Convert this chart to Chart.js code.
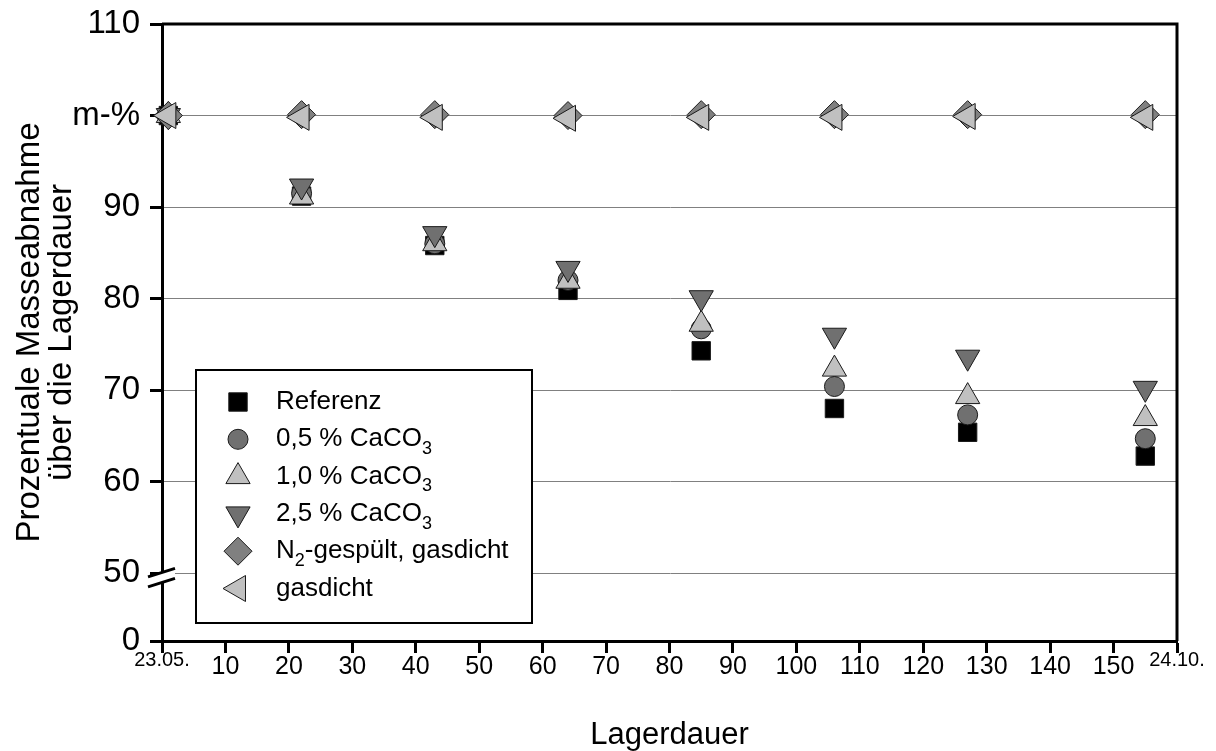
<!DOCTYPE html>
<html>
<head>
<meta charset="utf-8">
<script src="https://cdn.jsdelivr.net/npm/chart.js@4/dist/chart.umd.min.js"></script>
<style>
  html, body { margin: 0; background: #fff; }
  #wrap { width: 1216px; height: 751px; }
</style>
</head>
<body>
<div id="wrap"><canvas id="chart"></canvas></div>
<script>
// Lagerdauer in Tagen (erster Messpunkt kurz nach Einlagerung)
const days = [1, 22, 43, 64, 85, 106, 127, 155];

// Restmasse in m-% je Variante
const referenz   = [100, 91.2, 85.8, 80.9, 74.3, 68.0, 65.4, 62.8];
const caco05     = [100, 91.5, 86.0, 82.0, 76.7, 70.4, 67.3, 64.7];
const caco10     = [100, 91.1, 86.0, 81.9, 77.2, 72.3, 69.3, 66.9];
const caco25     = [100, 92.3, 87.1, 83.3, 80.1, 76.0, 73.6, 70.2];
const n2Gasdicht = [100, 100.1, 100.1, 100, 100.1, 100.1, 100.1, 100.1];
const gasdicht   = [100, 99.8, 99.8, 99.7, 99.8, 99.8, 99.9, 99.8];

const seriesNames = ['Referenz', '0,5 % CaCO₃', '1,0 % CaCO₃', '2,5 % CaCO₃', 'N₂-gespült, gasdicht', 'gasdicht'];

// Achsenbeschriftung (y-Achse mit Bruch zwischen 0 und 50)
const xTickValues = [0, 10, 20, 30, 40, 50, 60, 70, 80, 90, 100, 110, 120, 130, 140, 150, 160];
const xTickLabels = ['23.05.', '10', '20', '30', '40', '50', '60', '70', '80', '90', '100', '110', '120', '130', '140', '150', '24.10.'];
const yTickValues = [42.6, 50, 60, 70, 80, 90, 100, 110];
const yTickLabels = ['0', '50', '60', '70', '80', '90', 'm-%', '110'];

const FONT = "'Liberation Sans', Arial, sans-serif";

const markerStyles = [
  { pointStyle: 'rect',     rotation: 0,   radius: 13, fill: '#000000' },
  { pointStyle: 'circle',   rotation: 0,   radius: 10, fill: '#707070' },
  { pointStyle: 'triangle', rotation: 0,   radius: 14, fill: '#c0c0c0' },
  { pointStyle: 'triangle', rotation: 180, radius: 14, fill: '#707070' },
  { pointStyle: 'rectRot',  rotation: 0,   radius: 14, fill: '#808080' },
  { pointStyle: 'triangle', rotation: 270, radius: 15, fill: '#c0c0c0' },
];

const allSeries = [referenz, caco05, caco10, caco25, n2Gasdicht, gasdicht];

const datasets = allSeries.map((vals, i) => {
  const st = markerStyles[i];
  return {
    label: seriesNames[i],
    data: days.map((d, k) => ({ x: d, y: vals[k] })),
    showLine: false,
    pointStyle: st.pointStyle,
    pointRotation: st.rotation,
    pointRadius: st.radius,
    backgroundColor: st.fill,
    borderColor: '#1a1a1a',
    borderWidth: 1,
    clip: false,
    order: allSeries.length - i,
  };
});

// draws "CaCO₃" etc. with real lowered subscripts
function drawLabel(ctx, text, x, y, size) {
  let cx = x;
  for (const part of text.split(/([₀-₉]+)/)) {
    if (!part) continue;
    const isSub = /^[₀-₉]+$/.test(part);
    const s = isSub ? Math.round(size * 0.7) : size;
    const t = isSub ? part.replace(/[₀-₉]/g, c => String(c.charCodeAt(0) - 0x2080)) : part;
    ctx.font = s + 'px ' + FONT;
    ctx.fillText(t, cx, isSub ? y + size * 0.38 : y);
    cx += ctx.measureText(t).width;
  }
}

const framePlugin = {
  id: 'frame',
  beforeDatasetsDraw(chart) {
    const { ctx, chartArea: a } = chart;
    ctx.save();
    ctx.strokeStyle = '#000';
    ctx.lineWidth = 3;
    ctx.beginPath();
    ctx.moveTo(a.left, a.top);
    ctx.lineTo(a.right, a.top);
    ctx.lineTo(a.right, a.bottom);
    ctx.stroke();
    ctx.restore();
  },
  afterDraw(chart) {
    const { ctx, chartArea: a } = chart;
    // axis break marks just below 50
    const cx = a.left, cy = chart.scales.y.getPixelForValue(49.5);
    ctx.save();
    ctx.fillStyle = '#fff';
    ctx.beginPath();
    ctx.moveTo(cx - 14, cy - 1);
    ctx.lineTo(cx + 13, cy - 9.5);
    ctx.lineTo(cx + 13, cy + 0.5);
    ctx.lineTo(cx - 14, cy + 9);
    ctx.closePath();
    ctx.fill();
    ctx.strokeStyle = '#000';
    ctx.lineWidth = 3;
    ctx.beginPath();
    ctx.moveTo(cx - 14, cy - 1);
    ctx.lineTo(cx + 13, cy - 9.5);
    ctx.moveTo(cx - 14, cy + 9);
    ctx.lineTo(cx + 13, cy + 0.5);
    ctx.stroke();

    // legend box
    const bx = a.left + 34, by = a.top + 346, bw = 336, bh = 253;
    ctx.fillStyle = '#fff';
    ctx.fillRect(bx, by, bw, bh);
    ctx.lineWidth = 2;
    ctx.strokeRect(bx, by, bw, bh);
    chart.data.datasets.forEach((ds, i) => {
      const y = by + 32 + i * 37.3;
      ctx.fillStyle = ds.backgroundColor;
      ctx.strokeStyle = ds.borderColor;
      ctx.lineWidth = ds.borderWidth;
      Chart.helpers.drawPoint(ctx, {
        pointStyle: ds.pointStyle, rotation: ds.pointRotation,
        radius: ds.pointRadius, borderWidth: ds.borderWidth
      }, bx + 42, y);
      ctx.fillStyle = '#000';
      ctx.textBaseline = 'middle';
      ctx.textAlign = 'left';
      drawLabel(ctx, ds.label, bx + 80, y, 26);
    });
    ctx.restore();
  }
};

new Chart(document.getElementById('chart'), {
  type: 'scatter',
  data: { datasets },
  options: {
    responsive: true,
    maintainAspectRatio: false,
    animation: false,
    events: [],
    layout: { padding: { left: 0, right: 39, top: 24, bottom: 0 } },
    plugins: { legend: { display: false }, tooltip: { enabled: false } },
    scales: {
      x: {
        type: 'linear',
        min: 0,
        max: 160,
        afterBuildTicks: (s) => { s.ticks = xTickValues.map(v => ({ value: v })); },
        afterFit: (s) => { s.height = 110; s.paddingLeft = 0; s.paddingRight = 0; },
        border: { color: '#000', width: 3 },
        grid: { drawOnChartArea: false, drawTicks: true, tickLength: 12, tickWidth: 3, tickColor: '#000' },
        ticks: {
          autoSkip: false,
          maxRotation: 0,
          padding: 0,
          color: '#000',
          font: (c) => (c.index === 0 || c.index === xTickValues.length - 1)
            ? { family: FONT, size: 20, lineHeight: 0.75 }
            : { family: FONT, size: 25, lineHeight: 1.15 },
          callback: (v, i) => xTickLabels[i],
        },
        title: {
          display: true,
          text: 'Lagerdauer',
          color: '#000',
          font: { family: FONT, size: 31, lineHeight: 1.0 },
          padding: { top: 0, bottom: 0 },
        },
      },
      y: {
        type: 'linear',
        min: 42.6,
        max: 110,
        afterBuildTicks: (s) => { s.ticks = yTickValues.map(v => ({ value: v })); },
        afterFit: (s) => { s.width = 162; s.paddingTop = 0; s.paddingBottom = 0; },
        border: { color: '#000', width: 3 },
        grid: {
          color: (c) => (c.tick && c.tick.value >= 50 && c.tick.value <= 100) ? '#808080' : 'rgba(0,0,0,0)',
          lineWidth: 1,
          tickLength: 12,
          tickWidth: 3,
          tickColor: '#000',
        },
        ticks: {
          padding: 10,
          color: '#000',
          font: { family: FONT, size: 33 },
          callback: (v, i) => yTickLabels[i],
        },
        title: {
          display: true,
          text: ['Prozentuale Masseabnahme', 'über die Lagerdauer'],
          color: '#000',
          font: { family: FONT, size: 33, lineHeight: 0.97 },
          padding: { top: 14, bottom: 0 },
        },
      },
    },
  },
  plugins: [framePlugin],
});
</script>
</body>
</html>
